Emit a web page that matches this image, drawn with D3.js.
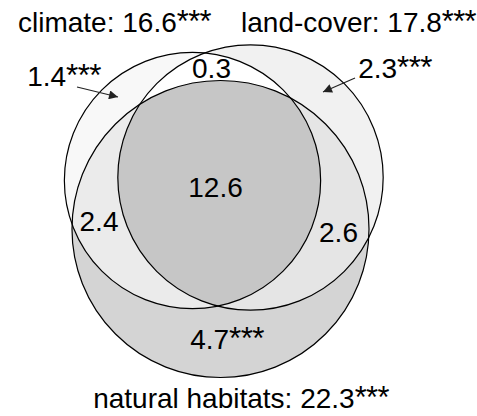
<!DOCTYPE html>
<html>
<head>
<meta charset="utf-8">
<script src="https://cdn.jsdelivr.net/npm/d3@7"></script>
<style>
html,body{margin:0;padding:0;background:#fff;}
svg{display:block;font-family:"Liberation Sans",Arial,Helvetica,sans-serif;}
</style>
</head>
<body>
<svg id="chart" width="477" height="416"></svg>
<script>
// ---- data ----
const setKeys = ["climate", "land", "natural"];
const setNames = ["climate", "land-cover", "natural habitats"];
const setTotals = [16.6, 17.8, 22.3];
const setSig = ["***", "***", "***"];
// unique / shared fractions
const regionKeys = ["climate", "land", "natural", "climate&land", "climate&natural", "land&natural", "all"];
const regionValues = [1.4, 2.3, 4.7, 0.3, 2.4, 2.6, 12.6];
const regionSig = ["***", "***", "***", "", "", "", ""];

// ---- layout ----
const svg = d3.select("#chart");
const rScale = d3.scaleSqrt().domain([0, 1]).range([0, 31.45]);
const centers = { climate: [192.5, 180.5], land: [250.5, 177.5], natural: [220.5, 229] };
const circles = setKeys.map((k, i) => ({ key: k, name: setNames[i], total: setTotals[i], cx: centers[k][0], cy: centers[k][1], r: rScale(setTotals[i]) }));
const byKey = Object.fromEntries(circles.map(c => [c.key, c]));

const regionFill = {
  "climate": "#f8f8f8", "land": "#f1f1f1", "natural": "#d4d4d4",
  "climate&land": "#ffffff", "climate&natural": "#ebebeb", "land&natural": "#e5e5e5", "all": "#c6c6c6"
};

const defs = svg.append("defs");
circles.forEach(c => {
  defs.append("clipPath").attr("id", "clip-" + c.key)
    .append("circle").attr("cx", c.cx).attr("cy", c.cy).attr("r", c.r);
});
defs.append("clipPath").attr("id", "clip-cl").attr("clip-path", "url(#clip-climate)")
  .append("circle").attr("cx", byKey.land.cx).attr("cy", byKey.land.cy).attr("r", byKey.land.r);

const g = svg.append("g");
circles.forEach(c => {
  g.append("circle").attr("cx", c.cx).attr("cy", c.cy).attr("r", c.r).attr("fill", regionFill[c.key]);
});
function pair(a, b, key) {
  g.append("g").attr("clip-path", "url(#clip-" + a + ")")
    .append("circle").attr("cx", byKey[b].cx).attr("cy", byKey[b].cy).attr("r", byKey[b].r)
    .attr("fill", regionFill[key]);
}
pair("climate", "land", "climate&land");
pair("climate", "natural", "climate&natural");
pair("land", "natural", "land&natural");
g.append("g").attr("clip-path", "url(#clip-cl)")
  .append("circle").attr("cx", byKey.natural.cx).attr("cy", byKey.natural.cy).attr("r", byKey.natural.r)
  .attr("fill", regionFill["all"]);
g.selectAll("circle.outline").data(circles).join("circle").attr("class", "outline")
  .attr("cx", d => d.cx).attr("cy", d => d.cy).attr("r", d => d.r)
  .attr("fill", "none").attr("stroke", "#000").attr("stroke-width", 1.2);

function addLabel(x, y, anchor, size, main, sig, sigScale) {
  const t = svg.append("text").attr("x", x).attr("y", y).attr("text-anchor", anchor)
    .attr("font-size", size).attr("fill", "#000");
  t.append("tspan").text(main);
  if (sig) t.append("tspan").attr("font-size", size * sigScale).attr("letter-spacing", -0.6).text(sig);
}

// ---- set titles ----
const titlePos = { climate: [18, 32, "start"], land: [476, 32, "end"], natural: [241, 408, "middle"] };
circles.forEach((c, i) => {
  const p = titlePos[c.key];
  addLabel(p[0], p[1], p[2], 28, c.name + ": " + d3.format(".1f")(c.total), setSig[i], 1.1);
});

// ---- region labels ----
const labelPos = {
  "climate": [64, 86], "land": [395, 78],
  "natural": [227, 349], "climate&land": [211.5, 78],
  "climate&natural": [99, 231], "land&natural": [338.5, 242],
  "all": [215.5, 197]
};
regionKeys.forEach((k, i) => {
  const p = labelPos[k];
  addLabel(p[0], p[1], "middle", 28, d3.format(".1f")(regionValues[i]), regionSig[i], 1.12);
});

// ---- arrows ----
defs.append("marker").attr("id", "arrow").attr("viewBox", "0 0 10 10")
  .attr("refX", 10).attr("refY", 5).attr("markerWidth", 15).attr("markerHeight", 9)
  .attr("markerUnits", "userSpaceOnUse").attr("orient", "auto")
  .append("path").attr("d", "M0,0L10,5L0,10Z").attr("fill", "#222");
const arrows = [
  { from: [77, 87], to: [118, 97] },
  { from: [355, 78], to: [323, 92] }
];
svg.selectAll("line.arrow").data(arrows).join("line").attr("class", "arrow")
  .attr("x1", d => d.from[0]).attr("y1", d => d.from[1])
  .attr("x2", d => d.to[0]).attr("y2", d => d.to[1])
  .attr("stroke", "#222").attr("stroke-width", 1.2).attr("marker-end", "url(#arrow)");
</script>
</body>
</html>
